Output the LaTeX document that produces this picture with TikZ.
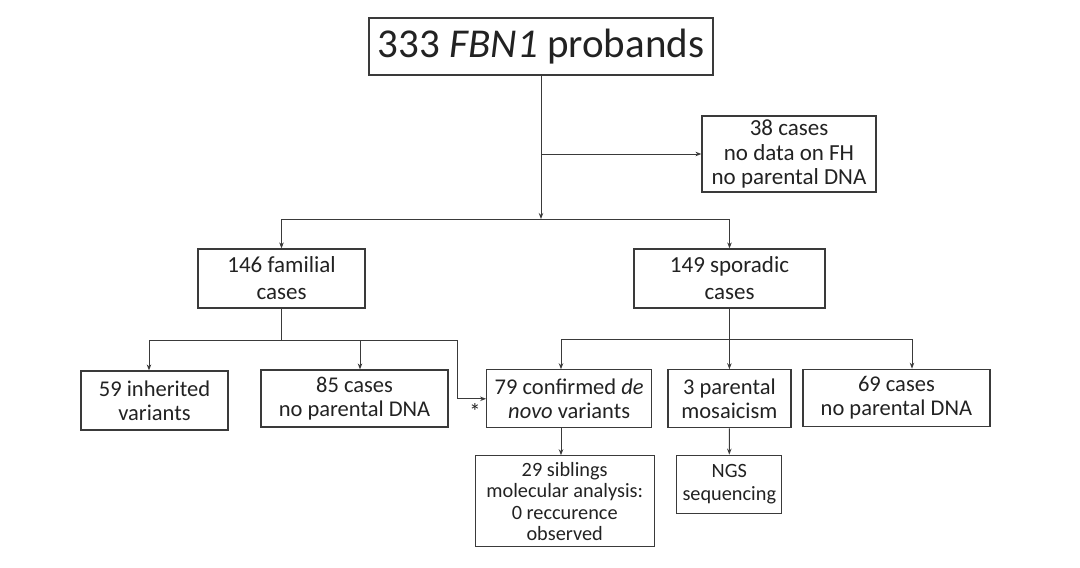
\documentclass[tikz,border=0pt]{standalone}
\usepackage{fontspec}
\setmainfont{Carlito}
\usetikzlibrary{arrows.meta}
\tikzset{>={Stealth[length=6pt,width=4.5pt]}}
\usepackage{xcolor}
\definecolor{linegray}{HTML}{3A3A3A}
\definecolor{textgray}{HTML}{222222}

\begin{document}
\begin{tikzpicture}[x=1pt,y=-1pt,
  box/.style={draw=linegray, line width=1.2pt, rectangle, align=center,
    inner sep=0pt, text=textgray, font=\fontsize{22.5}{24}\selectfont},
  link/.style={draw=linegray, line width=1pt}]
  \useasboundingbox (0,0) rectangle (1080,568);

  % 方框
  \node[box, minimum width=344, minimum height=57,
    font=\fontsize{41}{46}\selectfont] (probands) at (541,46.5) {333 \textit{FBN1} probands};
  \node[box, minimum width=174, minimum height=76,
    font=\fontsize{23}{24.5}\selectfont] (fh) at (789,154)
    {38 cases\\ no data on FH\\ no parental DNA};
  \node[box, minimum width=167, minimum height=59,
    font=\fontsize{23}{27}\selectfont] (familial) at (281.5,278.5)
    {146 familial\\ cases};
  \node[box, minimum width=191, minimum height=59,
    font=\fontsize{23}{27}\selectfont] (sporadic) at (729.5,278.5)
    {149 sporadic\\ cases};
  \node[box, minimum width=147, minimum height=59] (inherited) at (154.5,400.5)
    {59 inherited\\ variants};
  \node[box, minimum width=187, minimum height=57] (nodnaA) at (354.5,398.5)
    {85 cases\\ no parental DNA};
  \node[box, minimum width=165, minimum height=58] (denovo) at (569.2,398.8)
    {79 confirmed \textit{de}\\ \textit{novo} variants};
  \node[box, minimum width=123, minimum height=58] (mosaic) at (729.4,398.8)
    {3 parental\\ mosaicism};
  \node[box, minimum width=187, minimum height=57.5] (nodnaB) at (896.4,398)
    {69 cases\\ no parental DNA};
  \node[box, minimum width=179, minimum height=91,
    font=\fontsize{20.3}{21.5}\selectfont] (siblings) at (564.7,501.3)
    {29 siblings\\ molecular analysis:\\ 0 reccurence\\ observed};
  \node[box, minimum width=105, minimum height=58,
    font=\fontsize{20.3}{22.6}\selectfont] (ngs) at (729.3,484.2)
    {NGS\\ sequencing};

  % 连接点
  \coordinate (topbar) at (541,219);
  \coordinate (famL) at (149,340);
  \coordinate (famR) at (457,340);
  \coordinate (spoL) at (561,339);
  \coordinate (spoR) at (912,339);

  % 第一层
  \draw[link,->] (probands.south) -- (topbar);
  \draw[link,->] (probands.south |- fh.west) -- (fh.west);
  \draw[link] (familial.north |- topbar) -- (sporadic.north |- topbar);
  \draw[link,->] (familial.north |- topbar) -- (familial.north);
  \draw[link,->] (sporadic.north |- topbar) -- (sporadic.north);

  % 家族病例
  \draw[link] (familial.south) -- (familial.south |- famL);
  \draw[link] (famL) -- (famR);
  \draw[link,->] (famL) -- (famL |- inherited.north);
  \draw[link,->] ([xshift=5.5pt]nodnaA.north |- famL) -- ([xshift=5.5pt]nodnaA.north);
  \draw[link,->] (famR) |- (denovo.west);
  \node[text=textgray, font=\fontsize{22.5}{24}\selectfont] (star) at (475,412) {*};

  % 散发病例
  \draw[link] (sporadic.south) -- (sporadic.south |- spoL);
  \draw[link] (spoL) -- (spoR);
  \draw[link,->] (spoL) -- (spoL |- denovo.north);
  \draw[link,->] (mosaic.north |- spoL) -- (mosaic.north);
  \draw[link,->] (spoR) -- (spoR |- nodnaB.north);

  % 第三层
  \draw[link,->] (spoL |- denovo.south) -- (spoL |- siblings.north);
  \draw[link,->] (mosaic.south) -- (ngs.north);
\end{tikzpicture}
\end{document}
